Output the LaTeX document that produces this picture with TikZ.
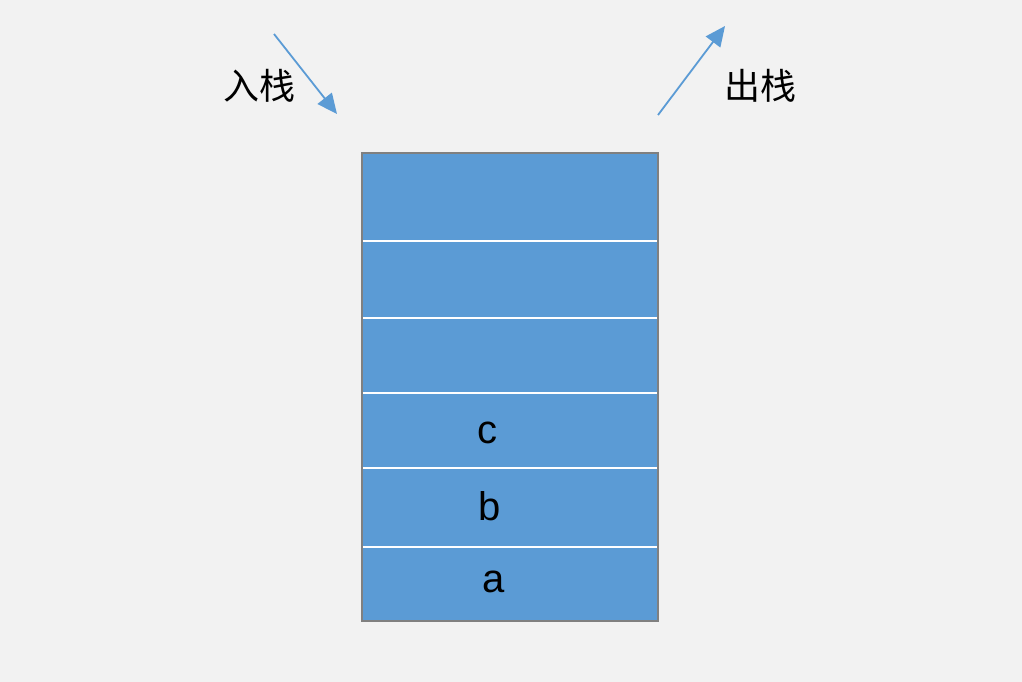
\documentclass[tikz,border=0pt]{standalone}
\usepackage{fontspec}
\setmainfont{Liberation Sans}
\newfontfamily\cjk{Noto Sans CJK SC}
\usetikzlibrary{arrows.meta}
\definecolor{bg}{HTML}{F2F2F2}
\definecolor{cellblue}{HTML}{5B9BD5}
\definecolor{edge}{HTML}{808080}
\begin{document}
\begin{tikzpicture}[x=1pt,y=-1pt,
  cell/.style={fill=cellblue,draw=none,minimum width=296pt,inner sep=0pt,anchor=north west},
  letter/.style={font=\fontsize{40}{42}\selectfont},
  divider/.style={draw=white,line width=2pt},
  push/.style={draw=cellblue,line width=1.8pt,-{Triangle[length=20pt,width=18pt]}},
  lbl/.style={font=\cjk\fontsize{36}{38}\selectfont}]
\fill[bg] (0,0) rectangle (1022,682);
\useasboundingbox (0,0) rectangle (1022,682);
\node[cell,minimum height=88pt] (c1) at (362,153) {};
\node[cell,minimum height=77pt] (c2) at (362,241) {};
\node[cell,minimum height=75pt] (c3) at (362,318) {};
\node[cell,minimum height=75pt] (c4) at (362,393) {};
\node[cell,minimum height=79pt] (c5) at (362,468) {};
\node[cell,minimum height=74pt] (c6) at (362,547) {};
\node[letter] (tc) at (487,433) {c};
\node[letter] (tb) at (490,506) {b};
\node[letter] (ta) at (494,582) {a};
\draw[divider] (c2.north west) -- (c2.north east);
\draw[divider] (c3.north west) -- (c3.north east);
\draw[divider] (c4.north west) -- (c4.north east);
\draw[divider] (c5.north west) -- (c5.north east);
\draw[divider] (c6.north west) -- (c6.north east);
\draw[edge,line width=2pt] (c1.north west) rectangle (c6.south east);
\node[lbl] (in) at (259,86) {入栈};
\node[lbl] (out) at (760,86) {出栈};
\coordinate (inS) at (274,34);
\coordinate (inE) at (337,114);
\coordinate (outS) at (658,115);
\coordinate (outE) at (725,26);
\draw[push] (inS) -- (inE);
\draw[push] (outS) -- (outE);
\end{tikzpicture}
\end{document}
